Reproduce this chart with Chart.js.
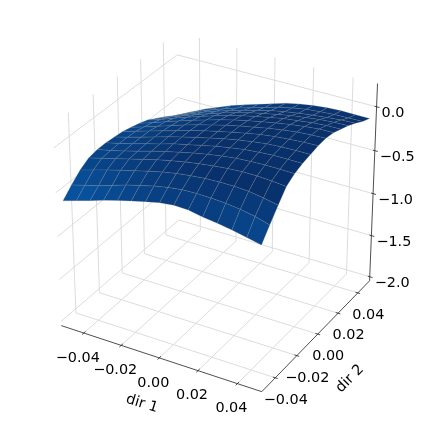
<!DOCTYPE html>
<html>
<head>
<meta charset="utf-8">
<script src="https://cdn.jsdelivr.net/npm/chart.js@4"></script>
<style>
  body { margin: 0; background: #fff; }
</style>
</head>
<body>
<canvas id="surfaceChart" width="424" height="424"></canvas>
<script>
const dir1Nodes = [-0.05, -0.0429, -0.0357, -0.0286, -0.0214, -0.0143, -0.0071, 0, 0.0071, 0.0143, 0.0214, 0.0286, 0.0357, 0.0429, 0.05];
const dir2Nodes = [-0.05, -0.0429, -0.0357, -0.0286, -0.0214, -0.0143, -0.0071, 0, 0.0071, 0.0143, 0.0214, 0.0286, 0.0357, 0.0429, 0.05];
// one row per dir2 node, one column per dir1 node
const surfaceZ = [
  [-.602,-.554,-.508,-.458,-.413,-.373,-.334,-.301,-.281,-.287,-.318,-.339,-.364,-.398,-.432],
  [-.50,-.46,-.42,-.37,-.32,-.28,-.24,-.21,-.19,-.185,-.19,-.20,-.22,-.25,-.297],
  [-.41,-.365,-.32,-.28,-.24,-.20,-.165,-.135,-.115,-.10,-.095,-.095,-.105,-.13,-.163],
  [-.35,-.31,-.27,-.23,-.19,-.15,-.115,-.085,-.06,-.04,-.025,-.015,-.015,-.025,-.04],
  [-.33,-.30,-.26,-.22,-.175,-.135,-.10,-.065,-.035,-.01,.01,.02,.025,.025,.02],
  [-.33,-.295,-.255,-.21,-.17,-.125,-.09,-.055,-.02,.005,.03,.045,.055,.055,.053],
  [-.34,-.30,-.255,-.21,-.165,-.125,-.085,-.05,-.015,.015,.04,.06,.07,.075,.074],
  [-.35,-.305,-.26,-.215,-.17,-.125,-.085,-.05,-.015,.015,.045,.065,.08,.09,.094],
  [-.375,-.33,-.28,-.23,-.18,-.135,-.095,-.055,-.02,.01,.04,.065,.085,.095,.102],
  [-.405,-.355,-.30,-.25,-.20,-.155,-.11,-.07,-.035,-.005,.025,.05,.07,.085,.088],
  [-.44,-.39,-.335,-.28,-.23,-.18,-.135,-.095,-.06,-.03,0,.02,.04,.05,.053],
  [-.495,-.44,-.38,-.325,-.27,-.22,-.175,-.135,-.10,-.07,-.04,-.02,0,.012,.016],
  [-.55,-.49,-.43,-.37,-.315,-.265,-.22,-.18,-.14,-.11,-.085,-.065,-.05,-.035,-.029],
  [-.617,-.545,-.475,-.415,-.36,-.31,-.265,-.22,-.175,-.14,-.115,-.10,-.09,-.085,-.083],
  [-.667,-.592,-.518,-.456,-.393,-.344,-.296,-.249,-.2,-.167,-.144,-.126,-.12,-.122,-.122]
];
const xTicks = [-0.04, -0.02, 0, 0.02, 0.04];
const yTicks = [-0.04, -0.02, 0, 0.02, 0.04];
const zTicks = [-2, -1.5, -1, -0.5, 0];
const xTickLabels = ['\u22120.04', '\u22120.02', '0.00', '0.02', '0.04'];
const yTickLabels = ['\u22120.04', '\u22120.02', '0.00', '0.02', '0.04'];
const zTickLabels = ['\u22122.0', '\u22121.5', '\u22121.0', '\u22120.5', '0.0'];
const zMin = -2.05, zMax = 0.26;

const cam = { el: 30.3256, az: -60.0081, dist: 9.6981, za: 0.9971, S: 231.4995, cx: 217.8644, cy: 205.7523, lim: 0.0522 };

function project(x, y, z) {
  const el = cam.el * Math.PI / 180, az = cam.az * Math.PI / 180;
  const n = [Math.cos(el) * Math.cos(az), Math.cos(el) * Math.sin(az), Math.sin(el)];
  const ul = Math.hypot(n[0], n[1]);
  const u = [-n[1] / ul, n[0] / ul, 0];
  const v = [n[1] * u[2] - n[2] * u[1], n[2] * u[0] - n[0] * u[2], n[0] * u[1] - n[1] * u[0]];
  const p = [(x + cam.lim) / (2 * cam.lim) - 0.5, (y + cam.lim) / (2 * cam.lim) - 0.5, ((z - zMin) / (zMax - zMin) - 0.5) * cam.za];
  const xv = u[0] * p[0] + u[1] * p[1] + u[2] * p[2];
  const yv = v[0] * p[0] + v[1] * p[1] + v[2] * p[2];
  const zv = n[0] * p[0] + n[1] * p[1] + n[2] * p[2];
  const d = cam.dist - zv;
  return { x: xv / d * cam.dist, y: yv / d * cam.dist };
}

const datasets = [];
function addLine(points, color, width, order) {
  datasets.push({
    data: points.map(p => project(p[0], p[1], p[2])),
    showLine: true, fill: false, borderColor: color, borderWidth: width,
    pointRadius: 0, order: order
  });
}
function colorFor(z) {
  let t = (z + 0.5) / 0.44;
  t = Math.max(0, Math.min(1, t));
  const g = Math.round(81 + (48 - 81) * t), b = Math.round(156 + (107 - 156) * t);
  return `rgb(8,${g},${b})`;
}

const L = cam.lim;
const gridColor = '#dcdcdc';
xTicks.forEach(v => {
  addLine([[v, -L, zMin], [v, L, zMin], [v, L, zMax]], gridColor, 1, 1000);
});
yTicks.forEach(v => {
  addLine([[L, v, zMin], [-L, v, zMin], [-L, v, zMax]], gridColor, 1, 1000);
});
zTicks.forEach(v => {
  addLine([[-L, -L, v], [-L, L, v], [L, L, v]], gridColor, 1, 1000);
});
addLine([[-L, -L, zMin], [L, -L, zMin]], '#222', 0.8, 900);
addLine([[L, -L, zMin], [L, L, zMin]], '#222', 0.8, 900);
addLine([[L, L, zMin], [L, L, zMax]], '#222', 0.8, 900);
xTicks.forEach(v => addLine([[v, -L - 0.0015, zMin], [v, -L + 0.0015, zMin]], '#222', 0.8, 900));
yTicks.forEach(v => addLine([[L - 0.0012, v, zMin], [L + 0.0012, v, zMin]], '#222', 0.8, 900));
zTicks.forEach(v => addLine([[L - 0.001, L, v], [L + 0.0015, L, v]], '#222', 0.8, 900));

// far quads get a higher order so the near ones paint over them
for (let j = 0; j < dir2Nodes.length - 1; j++) {
  for (let i = 0; i < dir1Nodes.length - 1; i++) {
    const z00 = surfaceZ[j][i], z10 = surfaceZ[j][i + 1], z11 = surfaceZ[j + 1][i + 1], z01 = surfaceZ[j + 1][i];
    const pts = [
      [dir1Nodes[i], dir2Nodes[j], z00], [dir1Nodes[i + 1], dir2Nodes[j], z10],
      [dir1Nodes[i + 1], dir2Nodes[j + 1], z11], [dir1Nodes[i], dir2Nodes[j + 1], z01],
      [dir1Nodes[i], dir2Nodes[j], z00]
    ];
    datasets.push({
      data: pts.map(p => project(p[0], p[1], p[2])),
      showLine: true, fill: 'shape',
      backgroundColor: colorFor((z00 + z10 + z11 + z01) / 4),
      borderColor: 'rgba(135,135,135,0.42)', borderWidth: 0.5,
      pointRadius: 0, order: 100 - (i + (dir2Nodes.length - 2 - j))
    });
  }
}

const textPlugin = {
  id: 'axisText',
  afterDraw(chart) {
    const ctx = chart.ctx, sx = chart.scales.x, sy = chart.scales.y;
    const px = p => {
      const q = project(p[0], p[1], p[2]);
      return [sx.getPixelForValue(q.x), sy.getPixelForValue(q.y)];
    };
    ctx.save();
    ctx.fillStyle = '#000';
    ctx.font = '14.4px "DejaVu Sans"';
    ctx.textBaseline = 'middle';
    ctx.textAlign = 'center';
    xTicks.forEach((v, i) => {
      const a = px([v, -L, zMin]);
      ctx.fillText(xTickLabels[i], a[0] - 6, a[1] + 25);
    });
    yTicks.forEach((v, i) => {
      const a = px([L, v, zMin]);
      ctx.fillText(yTickLabels[i], a[0] + 10.5, a[1] + 22.3);
    });
    ctx.textAlign = 'left';
    zTicks.forEach((v, i) => {
      const a = px([L, L, v]);
      ctx.fillText(zTickLabels[i], a[0] + 5, a[1] + 6.5);
    });
    ctx.textAlign = 'center';
    ctx.save();
    ctx.translate(142, 403.8);
    ctx.rotate(17 * Math.PI / 180);
    ctx.fillText('dir 1', 0, 0);
    ctx.restore();
    ctx.save();
    ctx.translate(350, 378.8);
    ctx.rotate(-45 * Math.PI / 180);
    ctx.fillText('dir 2', 0, 0);
    ctx.restore();
    ctx.restore();
  }
};

new Chart(document.getElementById('surfaceChart'), {
  type: 'scatter',
  data: { datasets: datasets },
  plugins: [textPlugin],
  options: {
    responsive: false,
    animation: false,
    layout: { padding: 0 },
    plugins: { legend: { display: false }, tooltip: { enabled: false } },
    scales: {
      x: { display: false, min: -cam.cx / cam.S, max: (424 - cam.cx) / cam.S },
      y: { display: false, min: -(424 - cam.cy) / cam.S, max: cam.cy / cam.S }
    }
  }
});
</script>
</body>
</html>
